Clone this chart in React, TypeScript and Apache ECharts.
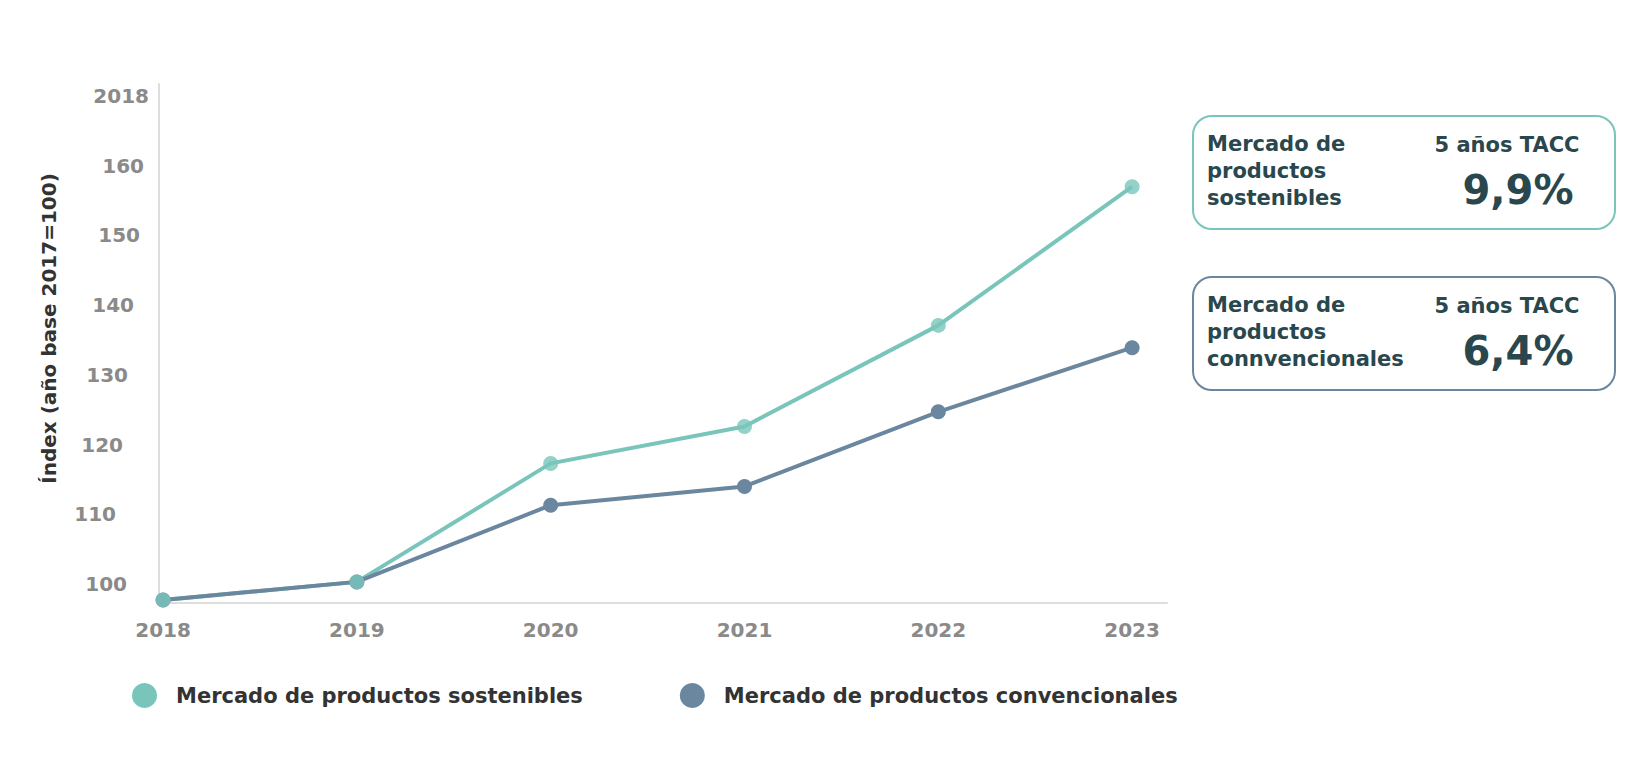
import React, { useEffect, useRef } from 'react';
import * as echarts from 'echarts';

const years = [2018, 2019, 2020, 2021, 2022, 2023];
const sostenibles = [97.7, 100.3, 117.3, 122.6, 137.1, 157.0];
const convencionales = [97.7, 100.3, 111.3, 114.0, 124.7, 133.9];
const yTickValues = [100, 110, 120, 130, 140, 150, 160, 170];
const yTickLabels = ['100', '110', '120', '130', '140', '150', '160', '2018'];
const seriesNames = ['Mercado de productos sostenibles', 'Mercado de productos convencionales'];
const cagrValues = ['9,9%', '6,4%'];

const TEAL = '#79c5bb';
const SLATE = '#6b879f';
const FONT = '"DejaVu Sans", sans-serif';
const CARD_TEXT = '#29474d';

// extra right padding per y label (100 → 170), the labels drift in the original
const yLabelPad = [22, 33, 26, 21, 15, 9, 5, 0];

const App: React.FC = () => {
  const chartRef = useRef<HTMLDivElement>(null);

  useEffect(() => {
    if (!chartRef.current) return;
    document.body.style.margin = '0';
    const chart = echarts.init(chartRef.current, undefined, { renderer: 'svg' });

    const rich: Record<string, any> = {};
    yTickValues.forEach((v, i) => {
      rich['l' + v] = {
        fontFamily: FONT,
        fontSize: 20,
        fontWeight: 700,
        color: '#8a8a8a',
        padding: [0, yLabelPad[i], 0, 0],
      };
    });

    const card = (top: number, color: string, label: string, value: string) => [
      {
        type: 'rect',
        shape: { x: 1193, y: top, width: 422, height: 113, r: 19 },
        style: { fill: '#fff', stroke: color, lineWidth: 2 },
      },
      {
        type: 'text',
        x: 1207,
        y: top + 14,
        style: {
          text: label,
          font: `700 21px ${FONT}`,
          lineHeight: 27,
          fill: CARD_TEXT,
        },
      },
      {
        type: 'text',
        x: 1507,
        y: top + 29,
        style: {
          text: '5 años TACC',
          font: `700 21px ${FONT}`,
          fill: CARD_TEXT,
          align: 'center',
          verticalAlign: 'middle',
        },
      },
      {
        type: 'text',
        x: 1518,
        y: top + 74,
        style: {
          text: value,
          font: `700 40px ${FONT}`,
          fill: CARD_TEXT,
          align: 'center',
          verticalAlign: 'middle',
        },
      },
    ];

    chart.setOption({
      animation: false,
      grid: { left: 159, top: 84, width: 1008, height: 519 },
      legend: {
        left: 132,
        top: 683,
        padding: 0,
        icon: 'circle',
        itemWidth: 25,
        itemHeight: 25,
        itemGap: 97,
        data: seriesNames,
        textStyle: { fontFamily: FONT, fontSize: 21, fontWeight: 700, color: '#333', padding: [0, 0, 0, 14] },
      },
      xAxis: {
        type: 'value',
        min: 2017.979,
        max: 2023.18,
        axisLine: { show: true, lineStyle: { color: '#dddddd', width: 2 } },
        axisTick: { show: false },
        splitLine: { show: false },
        axisLabel: {
          customValues: years,
          margin: 17,
          fontFamily: FONT,
          fontSize: 20,
          fontWeight: 700,
          color: '#8a8a8a',
          formatter: (v: number) => String(v),
        },
      },
      yAxis: {
        type: 'value',
        min: 97.27,
        max: 171.73,
        name: 'Índex (año base 2017=100)',
        nameLocation: 'middle',
        nameGap: 100,
        nameTextStyle: {
          fontFamily: FONT,
          fontSize: 20,
          fontWeight: 700,
          color: '#333',
          padding: [0, 0, 0, 30],
        },
        axisLine: { show: true, lineStyle: { color: '#dddddd', width: 2 } },
        axisTick: { show: false },
        splitLine: { show: false },
        axisLabel: {
          customValues: yTickValues,
          margin: 10,
          rich,
          formatter: (v: number) => {
            const i = yTickValues.indexOf(Math.round(v));
            return `{l${Math.round(v)}|${i >= 0 ? yTickLabels[i] : v}}`;
          },
        },
      },
      series: [
        {
          name: seriesNames[0],
          type: 'line',
          z: 2,
          data: years.map((y, i) => [y, sostenibles[i]]),
          showSymbol: false,
          lineStyle: { color: TEAL, width: 4 },
          itemStyle: { color: TEAL },
        },
        {
          name: seriesNames[1],
          type: 'line',
          z: 3,
          data: years.map((y, i) => [y, convencionales[i]]),
          symbol: 'circle',
          symbolSize: 15,
          lineStyle: { color: SLATE, width: 4 },
          itemStyle: { color: SLATE },
        },
        {
          name: seriesNames[0],
          type: 'scatter',
          z: 4,
          data: years.map((y, i) => [y, sostenibles[i]]),
          symbol: 'circle',
          symbolSize: 15,
          itemStyle: { color: TEAL },
        },
      ],
      graphic: [
        ...card(116, TEAL, 'Mercado de\nproductos\nsostenibles', cagrValues[0]),
        ...card(277, SLATE, 'Mercado de\nproductos\nconnvencionales', cagrValues[1]),
      ],
    });

    return () => {
      chart.dispose();
    };
  }, []);

  return <div ref={chartRef} style={{ width: '1648px', height: '760px' }} />;
};

export default App;
